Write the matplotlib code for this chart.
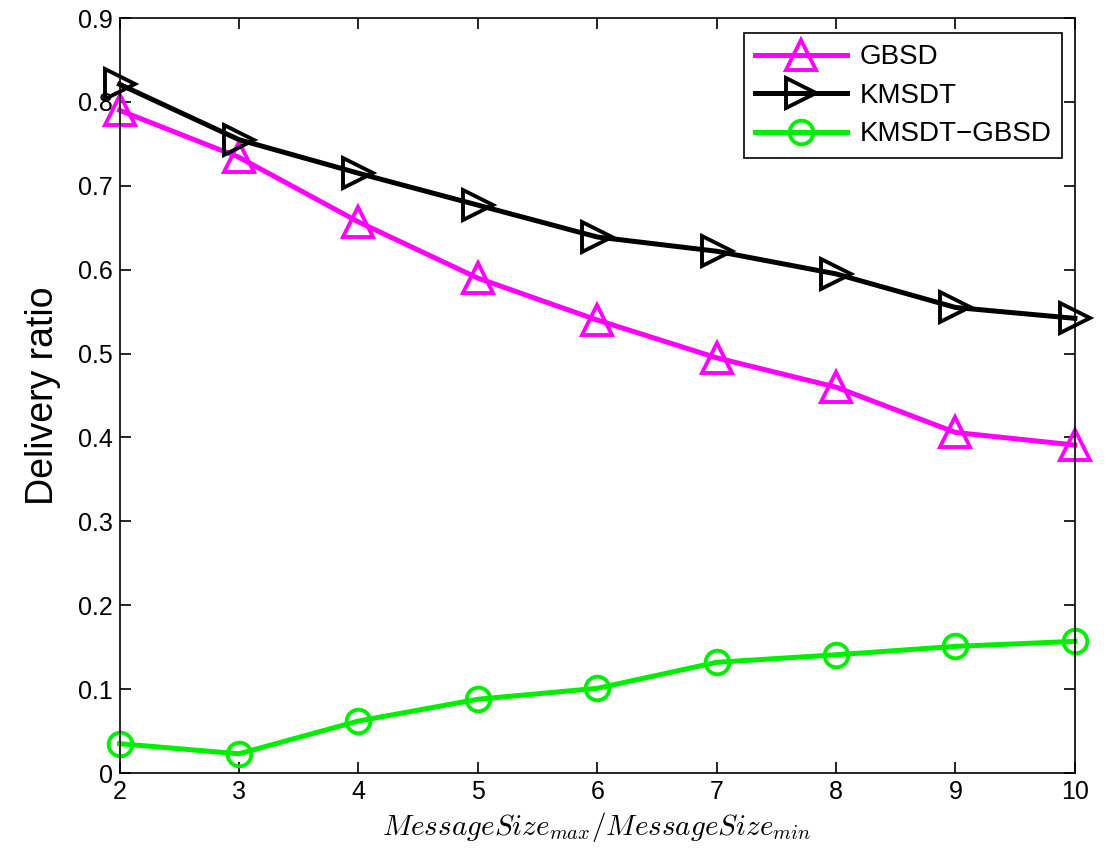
import numpy as np
import matplotlib
matplotlib.use("Agg")
import matplotlib.pyplot as plt

plt.rcParams['font.family'] = ['Liberation Sans', 'DejaVu Sans']
plt.rcParams['mathtext.fontset'] = 'cm'

# ratio MessageSize_max / MessageSize_min
ratio = [2, 3, 4, 5, 6, 7, 8, 9, 10]
gbsd = [0.790, 0.734, 0.657, 0.590, 0.540, 0.495, 0.460, 0.406, 0.391]
kmsdt = [0.821, 0.755, 0.715, 0.677, 0.639, 0.622, 0.595, 0.555, 0.542]
diff = [0.035, 0.023, 0.062, 0.088, 0.101, 0.132, 0.141, 0.151, 0.157]

fig = plt.figure(figsize=(11.07, 8.58), dpi=100)
ax = fig.add_axes([0.108, 0.099, 0.863, 0.880])

ax.plot(ratio, gbsd, color='#ff00ff', lw=3.6, marker='^', ms=21,
        mfc='none', mew=2.8, label='GBSD', clip_on=False)
ax.plot(ratio, kmsdt, color='black', lw=3.6, marker='>', ms=21,
        mfc='none', mew=2.8, label='KMSDT', clip_on=False)
ax.plot(ratio, diff, color='#00ee00', lw=3.6, marker='o', ms=17,
        mfc='none', mew=2.8, label='KMSDT\u2212GBSD', clip_on=False)

ax.set_xlim(2, 10)
ax.set_ylim(0, 0.9)
ax.set_xticks(ratio)
ax.set_yticks(np.arange(0, 0.91, 0.1))
ax.set_yticklabels(['0', '0.1', '0.2', '0.3', '0.4', '0.5', '0.6', '0.7', '0.8', '0.9'])
ax.tick_params(direction='in', top=True, right=True, length=8, width=1.2, labelsize=18, pad=5)
for s in ax.spines.values():
    s.set_linewidth(1.2)

ax.set_ylabel('Delivery ratio', fontsize=27, labelpad=12)
ax.set_xlabel(r'$MessageSize_{max}/MessageSize_{min}$', fontsize=21, labelpad=4)

leg = ax.legend(loc='upper right', fontsize=20, fancybox=False, edgecolor='black',
                framealpha=1, handlelength=3.3, handletextpad=0.45, borderpad=0.4,
                labelspacing=0.45, borderaxespad=0, bbox_to_anchor=(0.987, 0.98))
leg.get_frame().set_linewidth(1.2)

fig.savefig('out.png', dpi=100)
